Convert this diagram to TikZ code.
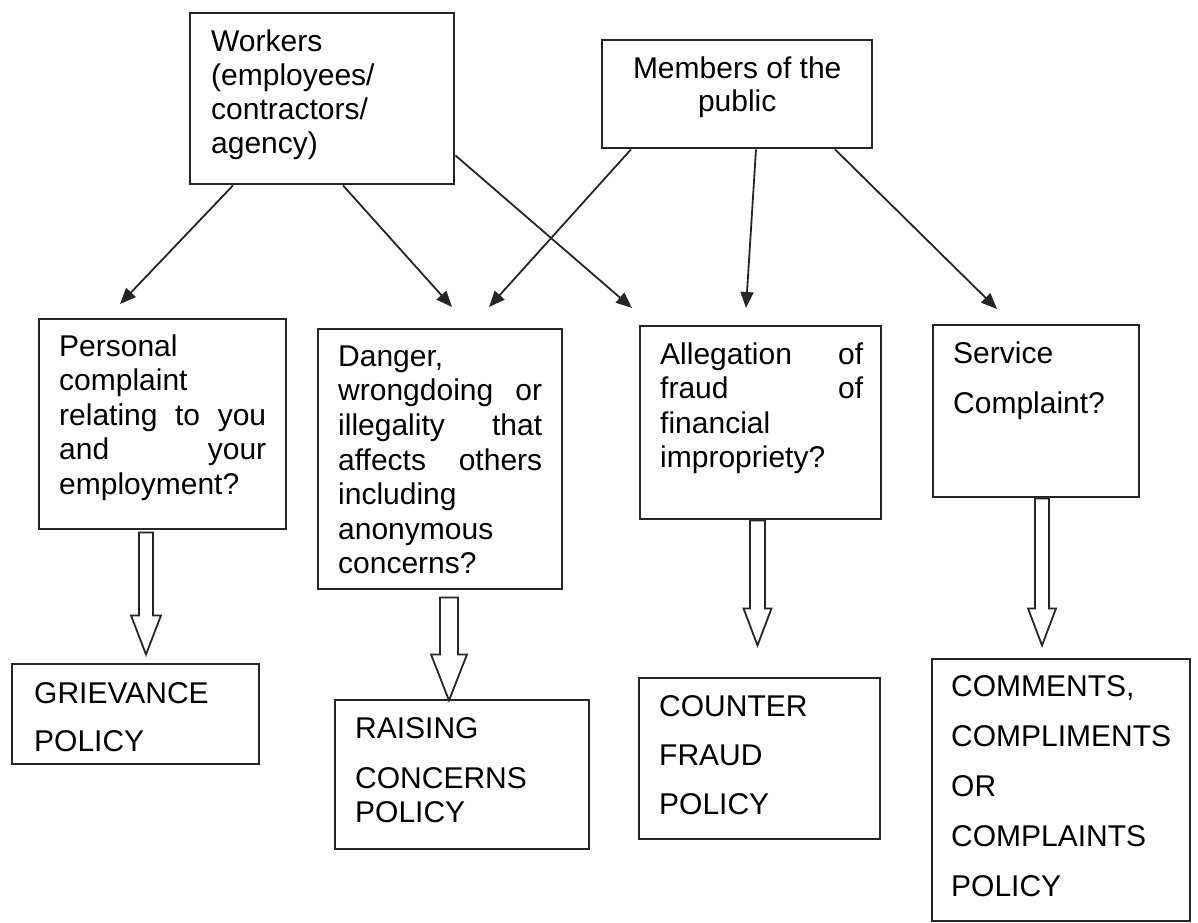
\documentclass[tikz,border=0pt]{standalone}
\usepackage{fontspec}
\setmainfont{Liberation Sans}
\usetikzlibrary{arrows.meta,calc}
% #1 width, #2 height, #3 left pad, #4 right pad, #5 first baseline, #6 line pitch, #7 text
\newcommand\boxtxt[7]{\parbox[c][#2pt][t]{#1pt}{\fontsize{30}{#6}\selectfont\leftskip=#3pt\rightskip=#4pt\relax\rule{0pt}{#5pt}#7}}
\tikzset{
  bx/.style={draw=black!85, line width=2.4pt, inner sep=0pt, anchor=north west, fill=white},
  arr/.style={draw=black!85, line width=1.8pt, -{Triangle[length=16pt,width=13pt]}},
  hollow/.style={draw=black!85, line width=1.8pt, fill=white, line join=miter}
}
\begin{document}
\begin{tikzpicture}[x=1pt,y=-1pt]
\useasboundingbox (0,0) rectangle (1198,922);
\fill[white] (0,0) rectangle (1198,922);

% top row
\node[bx] (W) at (189,12) {\boxtxt{264}{171}{21}{0}{38}{34}{Workers\\(employees/\\contractors/\\agency)}};
\node[bx] (M) at (601,39) {\parbox[c][108pt][t]{270pt}{\fontsize{30}{33.5}\selectfont\centering\rule{0pt}{38pt}Members of the\\public}};

% middle row
\node[bx] (P) at (38,318) {\boxtxt{247}{210}{20}{20}{37}{34.5}{Personal\\complaint\\relating \hfill to \hfill you\\and \hfill your\\employment?}};
\node[bx] (D) at (317,328) {\boxtxt{244}{260}{20}{20}{37}{34.6}{Danger,\\wrongdoing \hfill or\\illegality \hfill that\\affects \hfill others\\including\\anonymous\\concerns?}};
\node[bx] (A) at (639,325) {\boxtxt{241}{193}{20}{18}{38}{34.4}{Allegation \hfill of\\fraud \hfill of\\financial\\impropriety?}};
\node[bx] (S) at (932,324) {\boxtxt{206}{172}{20}{0}{38}{50}{Service\\Complaint?}};

% bottom row
\node[bx] (G) at (11,663) {\boxtxt{247}{100}{22}{0}{39}{48}{GRIEVANCE\\POLICY}};
\node[bx] (R) at (334,699) {\boxtxt{254}{149}{20}{0}{38}{34.5}{RAISING\\[15.5pt]CONCERNS\\POLICY}};
\node[bx] (C) at (638,677) {\boxtxt{241}{161}{20}{0}{38}{49}{COUNTER\\FRAUD\\POLICY}};
\node[bx] (K) at (931,658) {\boxtxt{258}{262}{19}{0}{37}{50}{COMMENTS,\\COMPLIMENTS\\OR\\COMPLAINTS\\POLICY}};

% thin arrows
\draw[arr] ($(W.south west)+(44,0)$) -- ($(P.north west)+(82,-14)$);
\draw[arr] ($(W.south west)+(154,0)$) -- ($(D.north west)+(135,-21)$);
\draw[arr] ($(W.south east)+(0,-30)$) -- ($(A.north west)+(-7,-17)$);
\draw[arr] ($(M.south west)+(30,0)$) -- ($(D.north west)+(172,-21)$);
\draw[arr] ($(M.south west)+(155,0)$) -- ($(A.north west)+(107,-17)$);
\draw[arr] ($(M.south west)+(234,0)$) -- ($(S.north west)+(65,-15)$);

% hollow block arrows
\draw[hollow] ($(P.south west)+(101,2)$) -- ++(0,83) -- ++(-8,0) -- ++(15,39) -- ++(15,-39) -- ++(-8,0) -- ++(0,-83) -- cycle;
\draw[hollow] ($(D.south west)+(123,7)$) -- ++(0,57) -- ++(-9,0) -- ++(18,46) -- ++(18,-46) -- ++(-9,0) -- ++(0,-57) -- cycle;
\draw[hollow] ($(A.south west)+(111,0)$) -- ++(0,88) -- ++(-6.5,0) -- ++(14,37) -- ++(14,-37) -- ++(-6.5,0) -- ++(0,-88) -- cycle;
\draw[hollow] ($(S.south west)+(103,0)$) -- ++(0,110) -- ++(-7,0) -- ++(14,37) -- ++(14,-37) -- ++(-7,0) -- ++(0,-110) -- cycle;
\end{tikzpicture}
\end{document}
